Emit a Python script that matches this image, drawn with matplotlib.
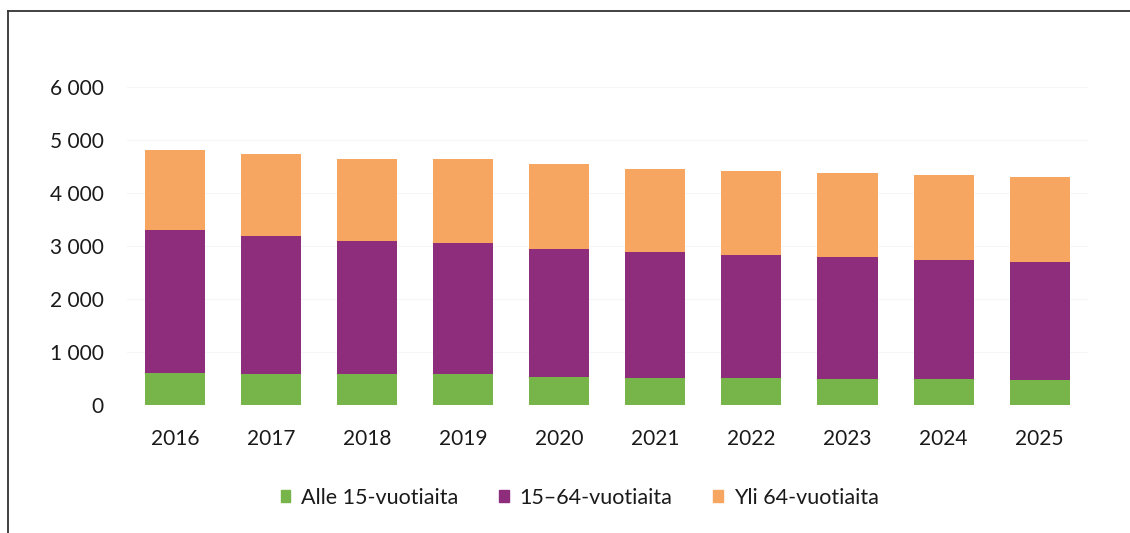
import numpy as np
import matplotlib
matplotlib.use("Agg")
import matplotlib.pyplot as plt
from matplotlib.lines import Line2D

# data
years = ["2016", "2017", "2018", "2019", "2020", "2021", "2022", "2023", "2024", "2025"]
alle15 = [612, 590, 582, 578, 537, 510, 504, 488, 485, 478]
age15_64_top = [3308, 3190, 3100, 3050, 2950, 2887, 2824, 2785, 2741, 2696]
total = [4820, 4735, 4650, 4640, 4540, 4460, 4418, 4386, 4348, 4302]

# segment sizes
age15_64 = [t - a for t, a in zip(age15_64_top, alle15)]
yli64 = [t - m for t, m in zip(total, age15_64_top)]

labels = ["Alle 15-vuotiaita", "15\u201364-vuotiaita", "Yli 64-vuotiaita"]
colors = ["#77b54a", "#8e2d7c", "#f7a662"]

plt.rcParams['font.family'] = ['Lato', 'DejaVu Sans']

fig = plt.figure(figsize=(11.3, 5.33), dpi=100)
ax = fig.add_axes([0.1128, 0.2402, 0.8496, 0.5966])

x = np.arange(len(years))
w = 0.625
ax.bar(x, alle15, w, color=colors[0], label=labels[0])
ax.bar(x, age15_64, w, bottom=alle15, color=colors[1], label=labels[1])
ax.bar(x, yli64, w, bottom=age15_64_top, color=colors[2], label=labels[2])

ax.set_xlim(-0.5, len(years) - 0.5)
ax.set_ylim(0, 6000)
ax.set_yticks(range(0, 6001, 1000))
ax.set_yticklabels([f"{v:,}".replace(",", " ") for v in range(0, 6001, 1000)])
ax.set_xticks(x)
ax.set_xticklabels(years)
ax.tick_params(axis='y', length=0, pad=17, labelsize=15, colors='#1a1a1a')
ax.tick_params(axis='x', length=0, pad=17, labelsize=15, colors='#1a1a1a')
ax.yaxis.grid(True, color='#f6f6f6', linewidth=0.8)
ax.set_axisbelow(True)
for s in ax.spines.values():
    s.set_visible(False)

handles = [plt.Rectangle((0, 0), 1, 1, color=c) for c in colors]
fig.legend(handles, labels, loc='center', bbox_to_anchor=(0.513, 0.066), ncol=3,
           frameon=False, fontsize=15.5, handlelength=0.45, handleheight=0.45,
           handletextpad=0.5, columnspacing=1.9, labelcolor='#1a1a1a')

# frame lines from the scanned page
fig.add_artist(Line2D([8 / 1130, 8 / 1130], [0, 1 - 11 / 533], color='#333333', lw=1.3))
fig.add_artist(Line2D([8 / 1130, 1], [1 - 11 / 533, 1 - 11 / 533], color='#333333', lw=1.3))

fig.savefig("out.png", dpi=100)
